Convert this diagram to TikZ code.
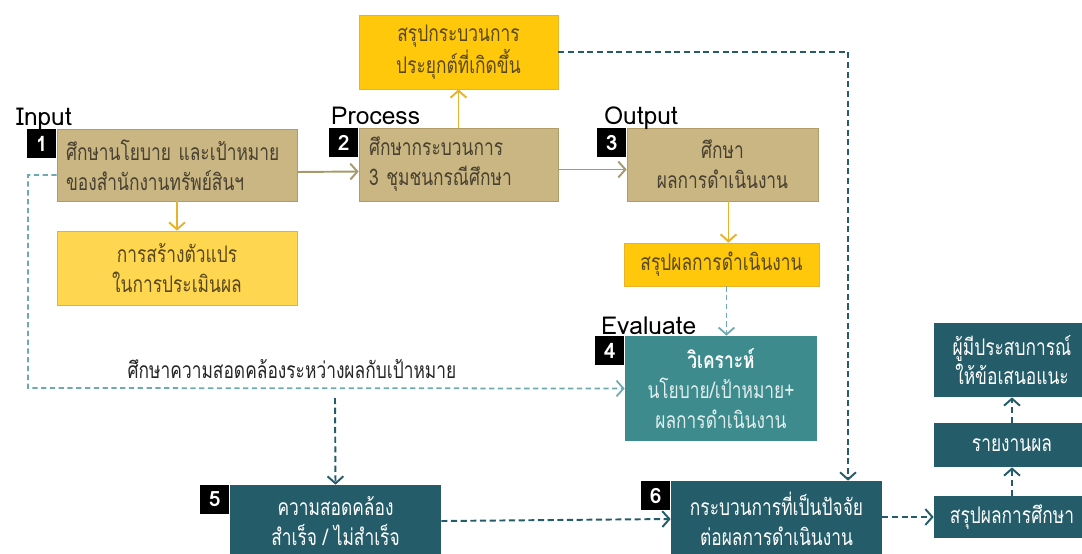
\documentclass[tikz,border=0pt]{standalone}
\usepackage{fontspec}
\newfontfamily\thaifont[Script=Thai,FakeStretch=0.76]{Loma}
\newfontfamily\stagefont{Loma}
\usetikzlibrary{arrows.meta,calc}
\definecolor{tanfill}{RGB}{201,182,130}\definecolor{tanline}{RGB}{176,156,100}\definecolor{tantext}{RGB}{72,64,48}
\definecolor{goldfill}{RGB}{255,200,10}\definecolor{lightgold}{RGB}{255,214,80}\definecolor{goldline}{RGB}{232,178,42}\definecolor{goldtext}{RGB}{88,72,30}
\definecolor{tealfill}{RGB}{61,139,141}\definecolor{darkteal}{RGB}{36,92,105}\definecolor{lightteal}{RGB}{108,170,176}
\definecolor{tanarrow}{RGB}{168,153,106}
\begin{document}
\begin{tikzpicture}[x=0.02cm,y=-0.02cm,>={Straight Barb[length=4pt,width=9pt]},
box/.style={rectangle,inner sep=2pt,align=center,font=\thaifont\fontsize{13}{17}\selectfont},
tanbox/.style={box,fill=tanfill,draw=tanline,text=tantext},
goldbox/.style={box,fill=goldfill,draw=goldline,text=goldtext},
tealbox/.style={box,fill=tealfill,text=white},
darkbox/.style={box,fill=darkteal,text=white},
badge/.style={rectangle,fill=black,text=white,minimum size=0.58cm,inner sep=0pt,anchor=north east,font=\stagefont\bfseries\fontsize{12}{12}\selectfont},
stage/.style={anchor=base west,font=\stagefont\fontsize{14}{15}\selectfont},
goldarr/.style={->,draw=goldline,line width=1.1pt},
tanarr/.style={->,draw=tanarrow,line width=1.1pt},
ltdash/.style={->,draw=lightteal,line width=1pt,dash pattern=on 3pt off 2pt},
dkdash/.style={->,draw=darkteal,line width=1.1pt,dash pattern=on 3.5pt off 2pt}]
\useasboundingbox(0,0)rectangle(1082,554);
\node[tanbox,text width=4.44cm,inner xsep=0.18cm,align=left,minimum height=1.44cm](b1)at(177,165){ศึกษานโยบาย และเป้าหมาย\\ของสำนักงานทรัพย์สินฯ};
\node[goldbox,fill=lightgold,minimum width=4.8cm,minimum height=1.48cm](var)at(177,268){การสร้างตัวแปร\\ในการประเมินผล};
\node[tanbox,text width=3.58cm,inner xsep=0.2cm,align=left,minimum height=1.46cm](b2)at(458.5,164.5){ศึกษากระบวนการ\\3 ชุมชนกรณีศึกษา};
\node[goldbox,minimum width=3.98cm,minimum height=1.48cm](sum)at(458.5,52){สรุปกระบวนการ\\ประยุกต์ที่เกิดขึ้น};
\node[tanbox,minimum width=3.82cm,minimum height=1.46cm](b3)at(722.5,164.5){ศึกษา\\ผลการดำเนินงาน};
\node[goldbox,minimum width=3.9cm,minimum height=0.86cm](res)at(721.5,264.5){สรุปผลการดำเนินงาน};
\node[tealbox,minimum width=3.84cm,minimum height=2.1cm](b4)at(721,388.5){\textbf{วิเคราะห์}\\\textcolor{white!85!tealfill}{นโยบาย/เป้าหมาย+}\\\textcolor{white!85!tealfill}{ผลการดำเนินงาน}};
\node[darkbox,minimum width=4.22cm,minimum height=1.44cm](b5)at(335.5,521){ความสอดคล้อง\\สำเร็จ / ไม่สำเร็จ};
\node[darkbox,minimum width=4.22cm,minimum height=1.52cm](b6)at(776.5,519){กระบวนการที่เป็นปัจจัย\\ต่อผลการดำเนินงาน};
\node[darkbox,minimum width=3.12cm,minimum height=1.48cm](r1)at(1012,360){ผู้มีประสบการณ์\\ให้ข้อเสนอแนะ};
\node[darkbox,minimum width=3.12cm,minimum height=0.88cm](r2)at(1012,445){รายงานผล};
\node[darkbox,minimum width=3.12cm,minimum height=0.84cm](r3)at(1012,517){สรุปผลการศึกษา};
\node[badge](n1)at(b1.north west){1};\node[badge](n2)at(b2.north west){2};\node[badge](n3)at(b3.north west){3};
\node[badge](n4)at(b4.north west){4};\node[badge](n5)at(b5.north west){5};\node[badge](n6)at(b6.north west){6};
\node[stage](in)at(10,126){Input};\node[stage](pr)at(325,125){Process};
\node[stage](out)at(598,125){Output};\node[stage](ev)at(595,334){Evaluate};
\draw[tanarr]([yshift=-0.14cm]b1.east)--([yshift=-0.14cm]b2.west);\draw[tanarr]([yshift=-0.1cm]b2.east)--([yshift=-0.1cm]b3.west);
\draw[goldarr](b1.south)--(var.north);\draw[goldarr](b2.north)--(sum.south);\draw[goldarr]([xshift=0.12cm]b3.south)--([xshift=0.12cm]b3.south|-res.north);
\draw[ltdash]([xshift=0.1cm]res.south)--([xshift=0.1cm]res.south|-b4.north);
\coordinate(cl)at(28,388);\coordinate(sp)at(335,398);\coordinate(tr)at(848,52);
\draw[ltdash]([yshift=-0.2cm]b1.west)-|(cl)--(b4.west);
\node[box,text=black!85,anchor=base](lbl)at(292,378){ศึกษาความสอดคล้องระหว่างผลกับเป้าหมาย};
\draw[dkdash](sp)--(b5.north);\draw[dkdash](b5.east)--(b6.west);
\draw[dkdash](sum.east)--(tr)--(tr|-b6.north);
\draw[dkdash](b6.east|-r3)--(r3.west);\draw[dkdash](r3.north)--(r2.south);\draw[dkdash](r2.north)--(r1.south);
\end{tikzpicture}
\end{document}
